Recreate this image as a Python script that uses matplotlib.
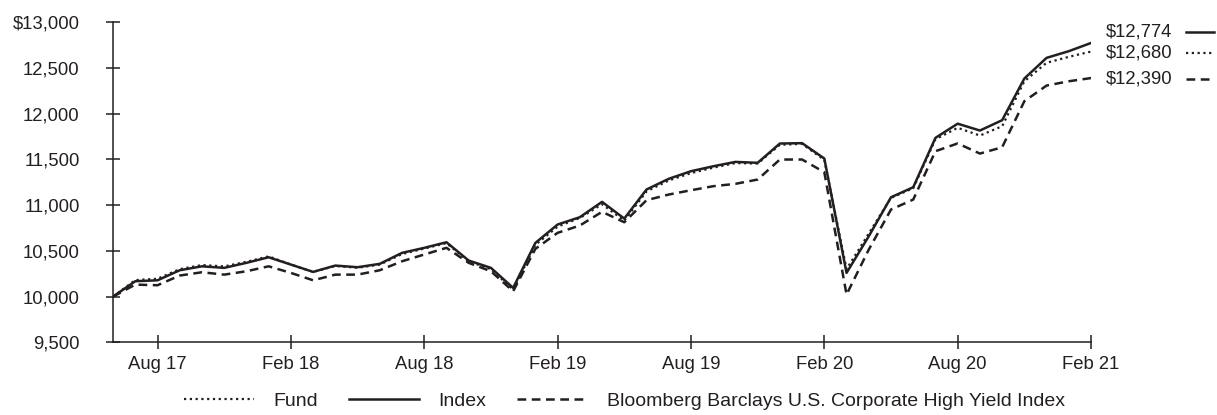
import numpy as np
import matplotlib
matplotlib.use('Agg')
import matplotlib.pyplot as plt
from matplotlib.lines import Line2D

plt.rcParams['font.family'] = ['Liberation Sans', 'DejaVu Sans']

# monthly values, Jun 17 .. Feb 21
months = ['Jun 17', 'Jul 17', 'Aug 17', 'Sep 17', 'Oct 17', 'Nov 17', 'Dec 17',
          'Jan 18', 'Feb 18', 'Mar 18', 'Apr 18', 'May 18', 'Jun 18', 'Jul 18',
          'Aug 18', 'Sep 18', 'Oct 18', 'Nov 18', 'Dec 18', 'Jan 19', 'Feb 19',
          'Mar 19', 'Apr 19', 'May 19', 'Jun 19', 'Jul 19', 'Aug 19', 'Sep 19',
          'Oct 19', 'Nov 19', 'Dec 19', 'Jan 20', 'Feb 20', 'Mar 20', 'Apr 20',
          'May 20', 'Jun 20', 'Jul 20', 'Aug 20', 'Sep 20', 'Oct 20', 'Nov 20',
          'Dec 20', 'Jan 21', 'Feb 21']

fund = [10000, 10180, 10195, 10300, 10345, 10330, 10380, 10440, 10350, 10270,
        10335, 10315, 10350, 10465, 10525, 10585, 10385, 10300, 10075, 10565,
        10765, 10860, 11010, 10830, 11150, 11270, 11350, 11410, 11460, 11455,
        11660, 11670, 11495, 10300, 10690, 11080, 11185, 11720, 11846, 11761,
        11863, 12355, 12557, 12622, 12680]

index = [10000, 10168, 10178, 10288, 10331, 10314, 10369, 10430, 10350, 10270,
         10339, 10321, 10358, 10478, 10533, 10594, 10394, 10314, 10095, 10587,
         10788, 10868, 11036, 10853, 11171, 11288, 11371, 11425, 11473, 11463,
         11674, 11678, 11510, 10259, 10660, 11086, 11196, 11736, 11891, 11816,
         11929, 12385, 12611, 12684, 12774]

bbg = [10000, 10131, 10124, 10230, 10266, 10240, 10277, 10331, 10259, 10178,
       10240, 10240, 10288, 10386, 10460, 10533, 10369, 10277, 10058, 10522,
       10697, 10777, 10927, 10813, 11054, 11116, 11163, 11207, 11233, 11280,
       11499, 11499, 11360, 10022, 10514, 10952, 11061, 11590, 11675, 11564,
       11633, 12137, 12308, 12355, 12390]

tick_labels = ['Aug 17', 'Feb 18', 'Aug 18', 'Feb 19', 'Aug 19', 'Feb 20', 'Aug 20', 'Feb 21']
y_ticks = [9500, 10000, 10500, 11000, 11500, 12000, 12500, 13000]

ink = '#231f20'
dotted = (0, (1, 1.6))
dashed = (0, (3.5, 2.2))

fig = plt.figure(figsize=(12.17, 4.15), dpi=100)
ax = fig.add_axes([0.0929, 0.1752, 0.8036, 0.7711])

x = np.arange(len(months))
ax.plot(x, fund, color=ink, lw=1.6, ls=dotted, label='Fund')
ax.plot(x, index, color=ink, lw=1.8, ls='-', label='Index')
ax.plot(x, bbg, color=ink, lw=1.8, ls=dashed,
        label='Bloomberg Barclays U.S. Corporate High Yield Index')

ax.set_xlim(0, len(months) - 1)
ax.set_ylim(9500, 13000)
ax.set_xticks([months.index(m) for m in tick_labels])
ax.set_xticklabels(tick_labels)
ax.set_yticks(y_ticks)
ax.set_yticklabels(['$13,000' if v == 13000 else f'{v:,}' for v in y_ticks])

for s in ['top', 'right']:
    ax.spines[s].set_visible(False)
for s in ['left', 'bottom']:
    ax.spines[s].set_color(ink)
    ax.spines[s].set_linewidth(1.1)
ax.tick_params(axis='both', direction='inout', length=10, width=1.1,
               color=ink, labelcolor=ink, labelsize=13.3)
ax.tick_params(axis='y', pad=19)
ax.tick_params(axis='x', pad=5)

# end values at right
ends = [('$12,774', '-', 1.8, 0.970), ('$12,680', dotted, 1.6, 0.905),
        ('$12,390', dashed, 1.8, 0.822)]
for txt, ls, lw, yy in ends:
    ax.text(1.0155, yy, txt, transform=ax.transAxes, ha='left', va='center',
            fontsize=13.3, color=ink, clip_on=False)
    ax.add_line(Line2D([1.0975, 1.126], [yy, yy], transform=ax.transAxes,
                       color=ink, lw=lw, ls=ls, clip_on=False))

fig.legend(loc='center', bbox_to_anchor=(0.513, 0.034), ncol=3, frameon=False,
           fontsize=14, handlelength=3.6, columnspacing=1.6, handletextpad=1.0,
           labelcolor=ink)

fig.savefig('out.png', dpi=100)
